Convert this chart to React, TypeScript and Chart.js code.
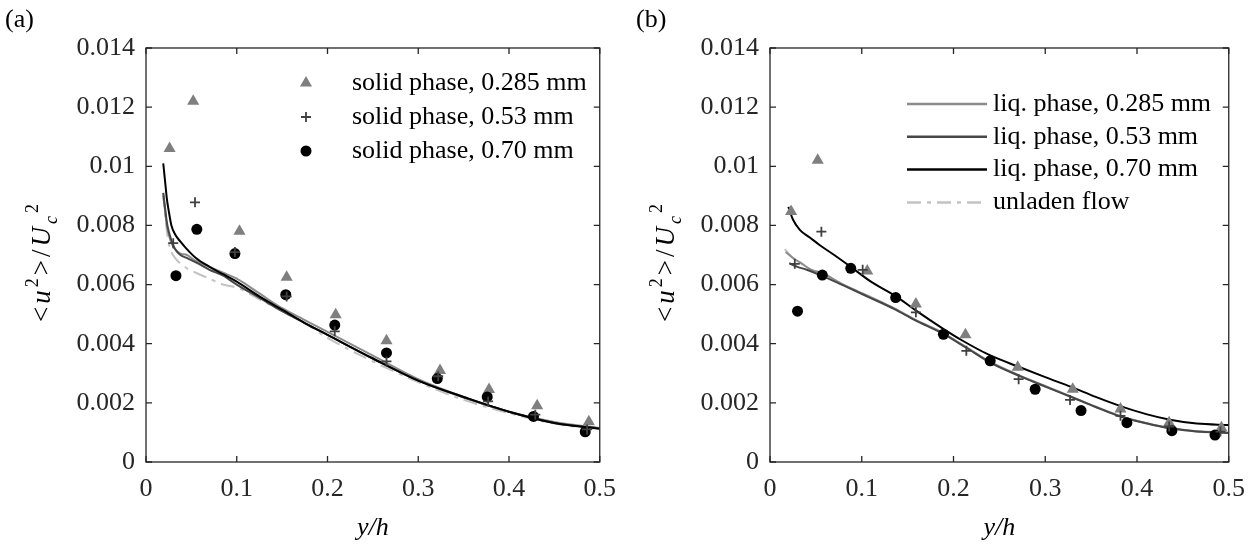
import React, { useEffect, useRef } from 'react';
import { Chart, registerables } from 'chart.js';

Chart.register(...registerables);

const SERIF = "'Liberation Serif', 'Times New Roman', 'DejaVu Serif', serif";

// ---------- shared axes ----------
const xTickValues = [0, 0.1, 0.2, 0.3, 0.4, 0.5];
const xTickLabels = ['0', '0.1', '0.2', '0.3', '0.4', '0.5'];
const yTickValues = [0, 0.002, 0.004, 0.006, 0.008, 0.01, 0.012, 0.014];
const yTickLabels = ['0', '0.002', '0.004', '0.006', '0.008', '0.01', '0.012', '0.014'];

// ---------- panel (a): solid phase ----------
const aTriX = [0.026, 0.052, 0.103, 0.155, 0.209, 0.265, 0.324, 0.378, 0.431, 0.488];
const aTriY = [0.0106, 0.0122, 0.0078, 0.00625, 0.00498, 0.0041, 0.00309, 0.00245, 0.0019, 0.00136];
const aPlusX = [0.030, 0.054, 0.098, 0.155, 0.208, 0.265, 0.322, 0.377, 0.429, 0.486];
const aPlusY = [0.0074, 0.00878, 0.0071, 0.0056, 0.00442, 0.0034, 0.0029, 0.00205, 0.0016, 0.0011];
const aCircX = [0.033, 0.056, 0.098, 0.154, 0.208, 0.265, 0.321, 0.376, 0.427, 0.484];
const aCircY = [0.0063, 0.00787, 0.00705, 0.00566, 0.00463, 0.00369, 0.00282, 0.0022, 0.00154, 0.00102];

const aLineX = [0.019, 0.021, 0.023, 0.025, 0.028, 0.032, 0.038, 0.045, 0.055, 0.07, 0.085, 0.1, 0.125, 0.15, 0.175, 0.2, 0.25, 0.3, 0.35, 0.4, 0.45, 0.5];
const aLine070 = [0.0101, 0.0095, 0.0089, 0.0085, 0.008, 0.0077, 0.00745, 0.0072, 0.0069, 0.0066, 0.00635, 0.0061, 0.0056, 0.00515, 0.0047, 0.0043, 0.0035, 0.00275, 0.0022, 0.0017, 0.00132, 0.00112];
const aLine053 = [0.0091, 0.0086, 0.0081, 0.0078, 0.0075, 0.0072, 0.007, 0.0069, 0.00675, 0.0065, 0.0063, 0.006, 0.00555, 0.0051, 0.0047, 0.0043, 0.0035, 0.00275, 0.00218, 0.0017, 0.00132, 0.00114];
const aLine0285 = [0.009, 0.0085, 0.008, 0.0077, 0.0074, 0.0072, 0.00705, 0.007, 0.0068, 0.0066, 0.0064, 0.0062, 0.0057, 0.0052, 0.0048, 0.0044, 0.0036, 0.0028, 0.0022, 0.0017, 0.00135, 0.00115];
const aLineUnladen = [0.0091, 0.0084, 0.0078, 0.0074, 0.0071, 0.0069, 0.0067, 0.00655, 0.0064, 0.0062, 0.006, 0.0059, 0.0055, 0.0051, 0.0047, 0.0042, 0.0034, 0.0027, 0.0021, 0.00165, 0.0013, 0.0011];

const legendA = ['solid phase, 0.285 mm', 'solid phase, 0.53 mm', 'solid phase, 0.70 mm'];

// ---------- panel (b): liquid phase ----------
const bTriX = [0.023, 0.052, 0.106, 0.159, 0.213, 0.27, 0.33, 0.382, 0.435, 0.492];
const bTriY = [0.00847, 0.0102, 0.00646, 0.00534, 0.0043, 0.0032, 0.00246, 0.00179, 0.00133, 0.00116];
const bPlusX = [0.027, 0.056, 0.101, 0.159, 0.214, 0.271, 0.327, 0.382, 0.435, 0.491];
const bPlusY = [0.0067, 0.00779, 0.0065, 0.00506, 0.00376, 0.0028, 0.0021, 0.00156, 0.0012, 0.00103];
const bCircX = [0.03, 0.057, 0.088, 0.137, 0.189, 0.24, 0.289, 0.339, 0.389, 0.438, 0.485];
const bCircY = [0.0051, 0.00632, 0.00655, 0.00556, 0.00432, 0.00342, 0.00246, 0.00174, 0.00133, 0.00106, 0.00091];

const bLine070X = [0.02, 0.025, 0.0325, 0.043, 0.054, 0.07, 0.088, 0.11, 0.137, 0.16, 0.188, 0.21, 0.239, 0.271, 0.3, 0.329, 0.355, 0.382, 0.41, 0.436, 0.465, 0.5];
const bLine070 = [0.00863, 0.0082, 0.00785, 0.0076, 0.00734, 0.007, 0.0066, 0.0061, 0.00561, 0.0051, 0.00452, 0.0041, 0.00362, 0.00322, 0.00287, 0.00253, 0.0022, 0.00189, 0.00162, 0.00143, 0.0013, 0.00125];
const bLine0285X = [0.017, 0.025, 0.035, 0.045, 0.056, 0.08, 0.108, 0.135, 0.159, 0.186, 0.213, 0.239, 0.271, 0.3, 0.329, 0.355, 0.382, 0.41, 0.436, 0.465, 0.5];
const bLine0285 = [0.0071, 0.0069, 0.0067, 0.0065, 0.0064, 0.006, 0.0056, 0.0052, 0.0048, 0.0044, 0.0039, 0.0034, 0.00294, 0.00257, 0.0022, 0.00187, 0.00155, 0.00132, 0.00115, 0.00104, 0.00099];
const bLine053X = [0.021, 0.03, 0.04, 0.056, 0.08, 0.108, 0.135, 0.159, 0.186, 0.213, 0.239, 0.271, 0.3, 0.329, 0.355, 0.382, 0.41, 0.436, 0.465, 0.5];
const bLine053 = [0.00672, 0.0066, 0.0065, 0.0063, 0.00597, 0.00557, 0.00518, 0.00478, 0.00438, 0.00388, 0.00338, 0.00292, 0.00255, 0.00219, 0.00186, 0.00154, 0.00131, 0.00114, 0.00103, 0.00098];
const bLineUnladenX = [0.016, 0.025, 0.035, 0.045, 0.056, 0.08, 0.108, 0.135, 0.159, 0.186, 0.213, 0.239, 0.271, 0.3, 0.329, 0.355, 0.382, 0.41, 0.436, 0.465, 0.5];
const bLineUnladen = [0.0072, 0.0069, 0.0067, 0.0065, 0.0064, 0.006, 0.0056, 0.0052, 0.0048, 0.0044, 0.0039, 0.0034, 0.00293, 0.00256, 0.0022, 0.00186, 0.00154, 0.00131, 0.00114, 0.00103, 0.00098];

const legendB = ['liq. phase, 0.285 mm', 'liq. phase, 0.53 mm', 'liq. phase, 0.70 mm', 'unladen flow'];

// ---------- styles ----------
const C_TRI = '#7f7f7f';
const C_PLUS = '#404040';
const C_CIRC = '#000000';
const C_L0285 = '#8c8c8c';
const C_L053 = '#474747';
const C_L070 = '#000000';
const C_UNL = '#c3c3c3';
const DASHDOT = [14, 6, 4, 6];
const AXIS = '#262626';
const TXT = 26;

const pts = (xs: number[], ys: number[]) => xs.map((x, i) => ({ x, y: ys[i] }));

function markerSets(triX: number[], triY: number[], plusX: number[], plusY: number[], circX: number[], circY: number[], names: string[]) {
  return [
    { label: names[1], data: pts(plusX, plusY), showLine: false, pointStyle: 'cross', pointRadius: 5, borderColor: C_PLUS, backgroundColor: C_PLUS, pointBorderWidth: 1.8 },
    { label: names[2], data: pts(circX, circY), showLine: false, pointStyle: 'circle', pointRadius: 5.5, borderColor: C_CIRC, backgroundColor: C_CIRC, pointBorderWidth: 0 },
    { label: names[0], data: pts(triX, triY), showLine: false, pointStyle: 'triangle', pointRadius: 7, borderColor: C_TRI, backgroundColor: C_TRI, pointBorderWidth: 0 },
  ];
}

function lineSet(label: string, xs: number[], ys: number[], color: string, dash: number[] = []) {
  return { label, data: pts(xs, ys), showLine: true, pointRadius: 0, borderColor: color, backgroundColor: color, borderWidth: 2, borderDash: dash, cubicInterpolationMode: 'monotone', fill: false };
}

function drawMarker(ctx: CanvasRenderingContext2D, kind: string, x: number, y: number) {
  ctx.save();
  if (kind === 'tri') {
    const r = 7;
    ctx.fillStyle = C_TRI;
    ctx.beginPath();
    ctx.moveTo(x, y - r);
    ctx.lineTo(x + r * Math.sin((2 * Math.PI) / 3), y - r * Math.cos((2 * Math.PI) / 3));
    ctx.lineTo(x + r * Math.sin((4 * Math.PI) / 3), y - r * Math.cos((4 * Math.PI) / 3));
    ctx.closePath();
    ctx.fill();
  } else if (kind === 'plus') {
    ctx.strokeStyle = C_PLUS;
    ctx.lineWidth = 1.8;
    ctx.beginPath();
    ctx.moveTo(x - 5, y); ctx.lineTo(x + 5, y);
    ctx.moveTo(x, y - 5); ctx.lineTo(x, y + 5);
    ctx.stroke();
  } else {
    ctx.fillStyle = C_CIRC;
    ctx.beginPath();
    ctx.arc(x, y, 5.5, 0, Math.PI * 2);
    ctx.fill();
  }
  ctx.restore();
}

const decorPlugin = {
  id: 'decor',
  afterDraw(chart: any, _args: any, opts: any) {
    const { ctx, chartArea: a, scales } = chart;
    const xs = scales.x, ys = scales.y;
    ctx.save();
    // frame
    ctx.strokeStyle = AXIS;
    ctx.lineWidth = 1.3;
    ctx.strokeRect(a.left, a.top, a.right - a.left, a.bottom - a.top);
    const L = 6;
    ctx.beginPath();
    xTickValues.forEach((v) => {
      const p = xs.getPixelForValue(v);
      ctx.moveTo(p, a.bottom); ctx.lineTo(p, a.bottom - L);
      ctx.moveTo(p, a.top); ctx.lineTo(p, a.top + L);
    });
    yTickValues.forEach((v) => {
      const p = ys.getPixelForValue(v);
      ctx.moveTo(a.left, p); ctx.lineTo(a.left + L, p);
      ctx.moveTo(a.right, p); ctx.lineTo(a.right - L, p);
    });
    ctx.stroke();

    ctx.fillStyle = '#000';
    // panel label
    ctx.font = `${TXT}px ${SERIF}`;
    ctx.textAlign = 'left';
    ctx.textBaseline = 'middle';
    ctx.fillText(opts.panel, opts.panelX, 20);

    // x title y/h
    ctx.font = `italic ${TXT}px ${SERIF}`;
    ctx.textAlign = 'center';
    ctx.fillText('y/h', (a.left + a.right) / 2, 528);

    // y title <u^2>/U_c^2
    const big = 27, small = 18;
    const pieces = [
      { t: '<', it: false, s: big, dy: 0 },
      { t: 'u', it: true, s: big, dy: 0 },
      { t: '2', it: false, s: small, dy: -12 },
      { t: '>', it: false, s: big, dy: 0 },
      { t: '/', it: false, s: big, dy: 0 },
      { t: 'U', it: true, s: big, dy: 0 },
      { t: 'c', it: true, s: small, dy: 7 },
      { t: '2', it: false, s: small, dy: -12 },
    ];
    const gap = 3;
    let total = 0;
    const widths = pieces.map((p) => {
      ctx.font = `${p.it ? 'italic ' : ''}${p.s}px ${SERIF}`;
      const w = ctx.measureText(p.t).width;
      total += w;
      return w;
    });
    total += gap * (pieces.length - 1);
    ctx.save();
    ctx.translate(opts.yTitleX, (a.top + a.bottom) / 2 + 8);
    ctx.rotate(-Math.PI / 2);
    ctx.textAlign = 'left';
    ctx.textBaseline = 'alphabetic';
    let cx = -total / 2;
    pieces.forEach((p, i) => {
      ctx.font = `${p.it ? 'italic ' : ''}${p.s}px ${SERIF}`;
      ctx.fillText(p.t, cx, p.dy);
      cx += widths[i] + gap;
    });
    ctx.restore();

    // legend
    ctx.font = `${TXT}px ${SERIF}`;
    ctx.textAlign = 'left';
    ctx.textBaseline = 'middle';
    const lg = opts.legend;
    lg.items.forEach((it: any, i: number) => {
      const y = lg.y + i * lg.dy;
      if (it.marker) {
        drawMarker(ctx, it.marker, lg.x, y);
      } else {
        ctx.save();
        ctx.strokeStyle = it.color;
        ctx.lineWidth = 2.5;
        ctx.setLineDash(it.dash || []);
        ctx.beginPath();
        ctx.moveTo(lg.x, y);
        ctx.lineTo(lg.x + 80, y);
        ctx.stroke();
        ctx.restore();
      }
      ctx.fillStyle = '#000';
      ctx.fillText(it.text, lg.textX, y);
    });
    ctx.restore();
  },
};

function buildConfig(datasets: any[], decor: any, rightPad: number) {
  return {
    type: 'scatter',
    data: { datasets },
    plugins: [decorPlugin],
    options: {
      animation: false,
      responsive: false,
      devicePixelRatio: 1,
      layout: { padding: { top: 48, right: rightPad, bottom: 0, left: 0 } },
      plugins: { legend: { display: false }, tooltip: { enabled: false }, decor },
      scales: {
        x: {
          type: 'linear', min: 0, max: 0.5,
          afterFit: (s: any) => { s.height = 84; },
          afterBuildTicks: (s: any) => { s.ticks = xTickValues.map((v) => ({ value: v })); },
          grid: { display: false, drawTicks: false },
          border: { display: false },
          ticks: {
            padding: 12, color: '#262626', maxRotation: 0, autoSkip: false,
            font: { family: SERIF, size: TXT },
            callback: (v: number) => { const i = xTickValues.findIndex((t) => Math.abs(t - v) < 1e-9); return i >= 0 ? xTickLabels[i] : ''; },
          },
        },
        y: {
          type: 'linear', min: 0, max: 0.014,
          afterFit: (s: any) => { s.width = 146; },
          afterBuildTicks: (s: any) => { s.ticks = yTickValues.map((v) => ({ value: v })); },
          grid: { display: false, drawTicks: false },
          border: { display: false },
          ticks: {
            padding: 11, color: '#262626', autoSkip: false,
            font: { family: SERIF, size: TXT },
            callback: (v: number) => { const i = yTickValues.findIndex((t) => Math.abs(t - v) < 1e-9); return i >= 0 ? yTickLabels[i] : ''; },
          },
        },
      },
    },
  };
}

export default function App() {
  const refA = useRef<HTMLCanvasElement>(null);
  const refB = useRef<HTMLCanvasElement>(null);

  useEffect(() => {
    const dsA = [
      ...markerSets(aTriX, aTriY, aPlusX, aPlusY, aCircX, aCircY, legendA),
      lineSet('liq. 0.70 mm', aLineX, aLine070, C_L070),
      lineSet('liq. 0.53 mm', aLineX, aLine053, C_L053),
      lineSet('liq. 0.285 mm', aLineX, aLine0285, C_L0285),
      lineSet('unladen', aLineX, aLineUnladen, C_UNL, DASHDOT),
    ];
    const dsB = [
      ...markerSets(bTriX, bTriY, bPlusX, bPlusY, bCircX, bCircY, ['solid 0.285', 'solid 0.53', 'solid 0.70']),
      lineSet(legendB[2], bLine070X, bLine070, C_L070),
      lineSet(legendB[1], bLine053X, bLine053, C_L053),
      lineSet(legendB[0], bLine0285X, bLine0285, C_L0285),
      lineSet(legendB[3], bLineUnladenX, bLineUnladen, C_UNL, DASHDOT),
    ];
    const decorA = {
      panel: '(a)', panelX: 5, yTitleX: 50,
      legend: {
        x: 306, textX: 352, y: 83, dy: 34,
        items: [
          { marker: 'tri', text: legendA[0] },
          { marker: 'plus', text: legendA[1] },
          { marker: 'circ', text: legendA[2] },
        ],
      },
    };
    const decorB = {
      panel: '(b)', panelX: 12, yTitleX: 50,
      legend: {
        x: 283, textX: 369, y: 104, dy: 32.8,
        items: [
          { color: C_L0285, text: legendB[0] },
          { color: C_L053, text: legendB[1] },
          { color: C_L070, text: legendB[2] },
          { color: C_UNL, dash: DASHDOT, text: legendB[3] },
        ],
      },
    };
    const chA = new Chart(refA.current as HTMLCanvasElement, buildConfig(dsA, decorA, 21) as any);
    const chB = new Chart(refB.current as HTMLCanvasElement, buildConfig(dsB, decorB, 26) as any);
    return () => { chA.destroy(); chB.destroy(); };
  }, []);

  return (
    <div style={{ position: 'fixed', left: 0, top: 0, width: 1257, height: 546, background: '#fff' }}>
      <canvas ref={refA} width={628} height={546} style={{ position: 'absolute', left: 0, top: 0, width: 628, height: 546 }} />
      <canvas ref={refB} width={633} height={546} style={{ position: 'absolute', left: 624, top: 0, width: 633, height: 546 }} />
    </div>
  );
}
